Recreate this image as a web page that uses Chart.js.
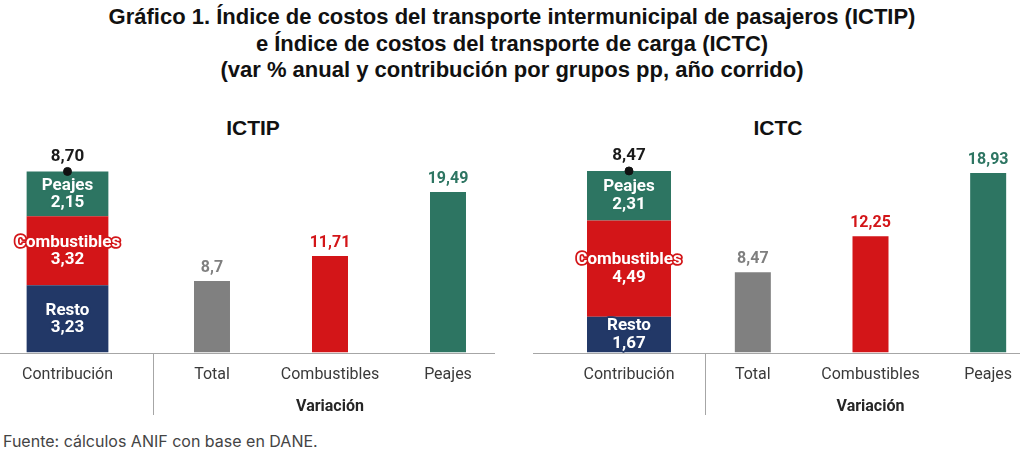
<!DOCTYPE html>
<html><head><meta charset="utf-8">
<script src="https://cdn.jsdelivr.net/npm/chart.js@4.4.1/dist/chart.umd.min.js"></script>
<style>
html,body{margin:0;padding:0;background:#fff;}
#page{position:relative;width:1024px;height:451px;overflow:hidden;background:#fff;}
.title{position:absolute;left:0;top:4px;width:1024px;text-align:center;font-family:"Liberation Sans",Arial,sans-serif;font-weight:bold;font-size:22px;line-height:26.5px;color:#111;}
.sub{position:absolute;top:114px;width:200px;text-align:center;font-family:"Liberation Sans",Arial,sans-serif;font-weight:bold;font-size:21px;line-height:28px;color:#111;}
canvas{position:absolute;top:140px;display:block;}
.foot{position:absolute;left:3px;top:431px;font-family:Inter,"Noto Sans",sans-serif;font-size:16px;line-height:20px;color:#444;}
</style></head>
<body><div id="page">
<div class="title">Gráfico 1. Índice de costos del transporte intermunicipal de pasajeros (ICTIP)<br>e Índice de costos del transporte de carga (ICTC)<br>(var % anual y contribución por grupos pp, año corrido)</div>
<div class="sub" style="left:153px">ICTIP</div>
<div class="sub" style="left:678px">ICTC</div>
<canvas id="c1" width="153" height="280" style="left:0px"></canvas>
<canvas id="v1" width="354" height="280" style="left:153px"></canvas>
<canvas id="c2" width="172" height="280" style="left:533px"></canvas>
<canvas id="v2" width="353" height="280" style="left:694px"></canvas>
<div class="foot">Fuente: cálculos ANIF con base en DANE.</div>
</div>
<script>
// ---- data ----
const contribCategory = ['Contribución'];
const variationCategories = ['Total', 'Combustibles', 'Peajes'];
const groupNames = ['Resto', 'Combustibles', 'Peajes'];
const ictipContrib = [3.23, 3.32, 2.15];
const ictipContribTotal = [8.70];
const ictipVariation = [8.7, 11.71, 19.49];
const ictcContrib = [1.67, 4.49, 2.31];
const ictcContribTotal = [8.47];
const ictcVariation = [8.47, 12.25, 18.93];

// ---- styles ----
const groupColors = ['#223867', '#d31518', '#2d7562'];
const variationColors = ['#808080', '#d31518', '#2d7562'];
const variationLabelColors = ['#7f7f7f', '#d31518', '#2d7562'];
const axisGray = '#a6a6a6';
const inBarFont = 'bold 17px Roboto';
const valueFont = 'bold 16px Roboto';
const tickFont = {family: 'Roboto', size: 16};

const fmt2 = v => v.toFixed(2).replace('.', ',');
const fmtV = v => String(v).replace('.', ',');

const deco = {
  id: 'deco',
  afterDatasetsDraw(chart, args, o) {
    const ctx = chart.ctx;
    const y0 = Math.round(chart.scales.y.getPixelForValue(0)) + 0.5;
    ctx.save();
    ctx.strokeStyle = axisGray; ctx.lineWidth = 1;
    ctx.beginPath(); ctx.moveTo(o.lineFrom, y0); ctx.lineTo(o.lineTo, y0); ctx.stroke();
    if (o.sepX != null) {
      ctx.beginPath(); ctx.moveTo(o.sepX, y0); ctx.lineTo(o.sepX, o.sepBottom); ctx.stroke();
    }
    ctx.textAlign = 'center'; ctx.textBaseline = 'middle';
    if (o.kind === 'contrib') {
      chart.data.datasets.forEach((ds, di) => {
        const meta = chart.getDatasetMeta(di);
        const el = meta.data[0];
        if (ds.type === 'bar') {
          ctx.font = inBarFont;
          const cy = (el.y + el.base) / 2;
          ctx.lineJoin = 'round';
          ctx.lineWidth = 3.5; ctx.strokeStyle = ds.backgroundColor;
          ctx.strokeText(ds.label, el.x, cy - 8.5);
          ctx.strokeText(fmt2(ds.data[0]), el.x, cy + 9);
          ctx.fillStyle = '#ffffff';
          ctx.fillText(ds.label, el.x, cy - 8.5);
          ctx.fillText(fmt2(ds.data[0]), el.x, cy + 9);
        } else {
          ctx.font = inBarFont;
          ctx.fillStyle = '#1a1a1a';
          ctx.fillText(fmt2(ds.data[0]), el.x, el.y - 15);
        }
      });
    } else {
      ctx.font = valueFont;
      const ds = chart.data.datasets[0];
      chart.getDatasetMeta(0).data.forEach((el, i) => {
        ctx.fillStyle = variationLabelColors[i];
        ctx.fillText(fmtV(ds.data[i]), el.x, el.y - 13);
      });
    }
    ctx.restore();
  }
};

function xAxis(titleText) {
  return {
    stacked: true,
    grid: {display: false, drawTicks: false},
    border: {display: false},
    ticks: {font: tickFont, color: '#3a3a3a', padding: 13},
    title: {display: true, text: titleText, color: '#262626', font: {family: 'Roboto', size: 16, weight: 'bold'}, padding: {top: 0, bottom: 0}}
  };
}

function contribChart(id, values, total, yMax, pad, barPct, decoOpts) {
  return new Chart(document.getElementById(id), {
    type: 'bar',
    data: {
      labels: contribCategory,
      datasets: groupNames.map((g, i) => ({
        type: 'bar', label: g, data: [values[i]], backgroundColor: groupColors[i],
        stack: 'c', categoryPercentage: 1, barPercentage: barPct, order: 2
      })).concat([{
        type: 'line', label: 'Total', data: total, stack: 't', showLine: false,
        pointRadius: 4, pointBackgroundColor: '#111', pointBorderColor: '#111', order: 1
      }])
    },
    options: {
      responsive: false, animation: false,
      layout: {padding: {left: pad[0], right: pad[1], top: 0, bottom: 3}},
      plugins: {legend: {display: false}, tooltip: {enabled: false}, deco: Object.assign({kind: 'contrib'}, decoOpts)},
      scales: {x: xAxis(' '), y: {stacked: true, display: false, min: 0, max: yMax}}
    },
    plugins: [deco]
  });
}

function variationChart(id, values, yMax, barPct, decoOpts) {
  return new Chart(document.getElementById(id), {
    type: 'bar',
    data: {
      labels: variationCategories,
      datasets: [{label: 'Variación', data: values, backgroundColor: variationColors, categoryPercentage: 1, barPercentage: barPct}]
    },
    options: {
      responsive: false, animation: false,
      layout: {padding: {left: 0, right: 0, top: 0, bottom: 3}},
      plugins: {legend: {display: false}, tooltip: {enabled: false}, deco: Object.assign({kind: 'var'}, decoOpts)},
      scales: {x: xAxis('Variación'), y: {display: false, min: 0, max: yMax}}
    },
    plugins: [deco]
  });
}

contribChart('c1', ictipContrib, ictipContribTotal, 9.97, [0, 23], 0.654, {lineFrom: 0, lineTo: 153});
variationChart('v1', ictipVariation, 25.8, 0.305, {lineFrom: 0, lineTo: 342, sepX: 0.5, sepBottom: 275});
contribChart('c2', ictcContrib, ictcContribTotal, 9.68, [31, 11], 0.646, {lineFrom: 0, lineTo: 172});
variationChart('v2', ictcVariation, 22.4, 0.306, {lineFrom: 11, lineTo: 326, sepX: 11.5, sepBottom: 275});
</script>
</body></html>
